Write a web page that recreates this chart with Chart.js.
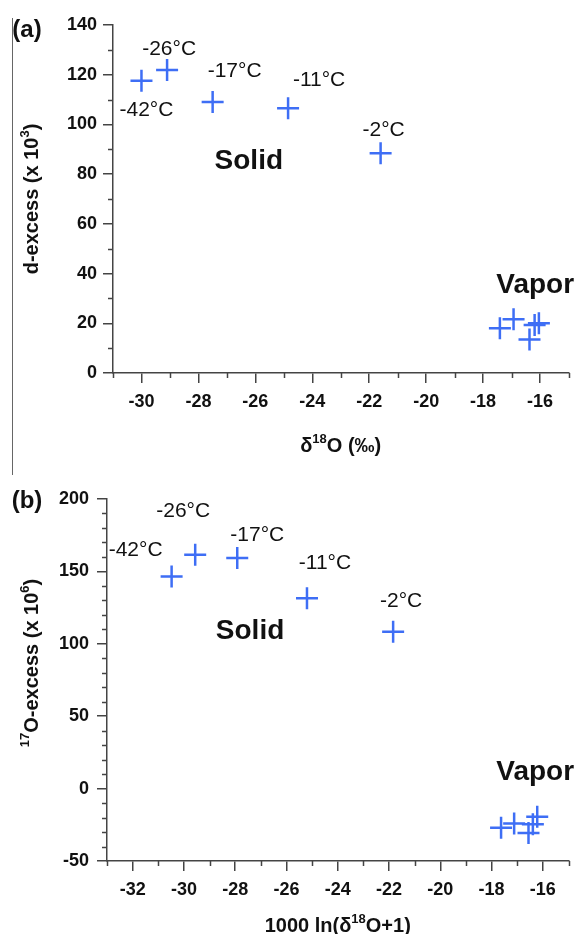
<!DOCTYPE html>
<html lang="en">
<head>
<meta charset="UTF-8">
<title>d-excess and 17O-excess</title>
<style>
  body { margin: 0; background: #fff; }
  #wrap { position: relative; width: 582px; height: 934px; }
  canvas { position: absolute; left: 0; }
  #chartA { top: 0; }
  #chartB { top: 467px; }
  .edge { position: absolute; left: 12px; top: 18px; width: 1px; height: 457px; background: #666; }
</style>
</head>
<body>
<div id="wrap">
  <div class="edge"></div>
  <canvas id="chartA" width="582" height="467"></canvas>
  <canvas id="chartB" width="582" height="467"></canvas>
</div>
<script src="https://cdn.jsdelivr.net/npm/chart.js"></script>
<script>
const tempLabels = ['-42°C', '-26°C', '-17°C', '-11°C', '-2°C'];

// (a) d-excess vs d18O
const solidD18O = [-30.0, -29.1, -27.5, -24.85, -21.6];
const solidDex = [117.6, 121.9, 109.0, 106.5, 88.4];
const vaporD18O = [-17.41, -16.93, -16.37, -16.19, -16.04];
const vaporDex = [18.0, 21.6, 13.5, 19.3, 20.0];
const xTicksA = [-30, -28, -26, -24, -22, -20, -18, -16];
const yTicksA = [0, 20, 40, 60, 80, 100, 120, 140];

// (b) 17O-excess vs 1000 ln(d18O+1)
const solidLn18O = [-30.48, -29.56, -27.92, -25.2, -21.84];
const solid17Oex = [146.5, 161.5, 159.2, 131.5, 108.4];
const vaporLn18O = [-17.63, -17.12, -16.56, -16.39, -16.22];
const vapor17Oex = [-27.1, -24.1, -30.6, -24.6, -19.5];
const xTicksB = [-32, -30, -28, -26, -24, -22, -20, -18, -16];
const yTicksB = [-50, 0, 50, 100, 150, 200];

const FONT = 'Arial, "Liberation Sans", sans-serif';
const BLUE = 'rgb(62, 110, 245)';
const AXIS = '#444';
Chart.defaults.font.family = FONT;

function toPoints(xs, ys) {
  return xs.map((x, i) => ({ x: x, y: ys[i] }));
}

// text with superscripts, centred on (cx, cy)
function drawRich(ctx, parts, cx, cy, size) {
  const big = 'bold ' + size + 'px ' + FONT;
  const small = 'bold ' + Math.round(size * 0.65) + 'px ' + FONT;
  let w = 0;
  parts.forEach(p => { ctx.font = p[1] ? small : big; w += ctx.measureText(p[0]).width; });
  let x = cx - w / 2;
  ctx.textAlign = 'left';
  ctx.textBaseline = 'alphabetic';
  parts.forEach(p => {
    ctx.font = p[1] ? small : big;
    ctx.fillText(p[0], x, cy + size * 0.36 - (p[1] ? size * 0.45 : 0));
    x += ctx.measureText(p[0]).width;
  });
}

const panelText = {
  id: 'panelText',
  afterDatasetsDraw(chart, args, opts) {
    const ctx = chart.ctx;
    const xs = chart.scales.x, ys = chart.scales.y, area = chart.chartArea;
    ctx.save();

    // minor ticks
    ctx.strokeStyle = AXIS;
    ctx.lineWidth = 1.5;
    ctx.beginPath();
    for (let v = Math.round(xs.min); v <= xs.max; v += opts.xMinor) {
      if (opts.xMajor.includes(v)) continue;
      const px = Math.round(xs.getPixelForValue(v)) + 0.5;
      ctx.moveTo(px, area.bottom);
      ctx.lineTo(px, area.bottom + 5);
    }
    for (let v = Math.round(ys.min); v <= ys.max; v += opts.yMinor) {
      if (opts.yMajor.includes(v)) continue;
      const py = Math.round(ys.getPixelForValue(v)) + 0.5;
      ctx.moveTo(area.left - 5, py);
      ctx.lineTo(area.left, py);
    }
    ctx.stroke();

    ctx.fillStyle = '#111';

    // temperature labels next to the solid points
    const solid = chart.getDatasetMeta(0).data;
    ctx.font = '21px ' + FONT;
    ctx.textAlign = 'center';
    ctx.textBaseline = 'middle';
    solid.forEach((pt, i) => {
      const off = opts.offsets[i];
      ctx.fillText(tempLabels[i], pt.x + off[0], pt.y + off[1] + 1);
    });

    // Solid / Vapor
    ctx.font = 'bold 28px ' + FONT;
    opts.groups.forEach(g => {
      ctx.fillText(g.text, xs.getPixelForValue(g.x), ys.getPixelForValue(g.y) + 1);
    });

    // panel letter
    ctx.font = 'bold 24px ' + FONT;
    ctx.fillText(opts.tag, 27, opts.tagY);

    // axis titles
    drawRich(ctx, opts.xTitle, (area.left + area.right) / 2, opts.xTitleY, 20);
    ctx.translate(31, opts.yTitleY);
    ctx.rotate(-Math.PI / 2);
    drawRich(ctx, opts.yTitle, 0, 0, 20);
    ctx.restore();
  }
};

function makeChart(id, solidX, solidY, vaporX, vaporY, cfg) {
  const tickFont = { size: 18, weight: 'bold' };
  return new Chart(document.getElementById(id), {
    type: 'scatter',
    data: {
      datasets: [
        { label: 'Solid', data: toPoints(solidX, solidY) },
        { label: 'Vapor', data: toPoints(vaporX, vaporY) }
      ]
    },
    options: {
      responsive: false,
      animation: false,
      events: [],
      layout: { padding: { top: cfg.top, right: 10, left: 0, bottom: 0 } },
      elements: {
        point: {
          pointStyle: 'cross',
          radius: 11,
          borderWidth: 2.5,
          borderColor: BLUE,
          backgroundColor: BLUE
        }
      },
      scales: {
        x: {
          type: 'linear',
          min: cfg.xMin,
          max: cfg.xMax,
          afterBuildTicks: s => { s.ticks = cfg.xTicks.map(v => ({ value: v })); },
          afterFit: s => { s.height = cfg.xHeight; },
          ticks: { font: tickFont, color: '#111', padding: 8, maxRotation: 0 },
          grid: { drawOnChartArea: false, tickLength: 10, color: AXIS, lineWidth: 1.5 },
          border: { color: AXIS, width: 1.5 }
        },
        y: {
          type: 'linear',
          min: cfg.yMin,
          max: cfg.yMax,
          afterBuildTicks: s => { s.ticks = cfg.yTicks.map(v => ({ value: v })); },
          afterFit: s => { s.width = cfg.yWidth; },
          ticks: { font: tickFont, color: '#111', padding: cfg.yPad },
          grid: { drawOnChartArea: false, tickLength: 10, color: AXIS, lineWidth: 1.5 },
          border: { color: AXIS, width: 1.5 }
        }
      },
      plugins: {
        legend: { display: false },
        tooltip: { enabled: false },
        panelText: cfg.text
      }
    },
    plugins: [panelText]
  });
}

makeChart('chartA', solidD18O, solidDex, vaporD18O, vaporDex, {
  top: 25, xHeight: 94, yWidth: 113, yPad: 6,
  xMin: -31, xMax: -15, yMin: 0, yMax: 140,
  xTicks: xTicksA, yTicks: yTicksA,
  text: {
    tag: '(a)', tagY: 30,
    xMajor: xTicksA, yMajor: yTicksA, xMinor: 1, yMinor: 10,
    offsets: [[5, 29], [2, -22], [22, -32], [31, -29], [3, -24]],
    groups: [{ text: 'Solid', x: -26.23, y: 85.7 }, { text: 'Vapor', x: -16.17, y: 35.8 }],
    xTitle: [['δ'], ['18', true], ['O (‰)']], xTitleY: 445,
    yTitle: [['d-excess (x 10'], ['3', true], [')']], yTitleY: 199
  }
});

makeChart('chartB', solidLn18O, solid17Oex, vaporLn18O, vapor17Oex, {
  top: 32, xHeight: 73, yWidth: 107, yPad: 8,
  xMin: -33, xMax: -15, yMin: -50, yMax: 200,
  xTicks: xTicksB, yTicks: yTicksB,
  text: {
    tag: '(b)', tagY: 34,
    xMajor: xTicksB, yMajor: yTicksB, xMinor: 1, yMinor: 10,
    offsets: [[-36, -27], [-12, -45], [20, -24], [18, -36], [8, -31]],
    groups: [{ text: 'Solid', x: -27.42, y: 109.6 }, { text: 'Vapor', x: -16.3, y: 12.1 }],
    xTitle: [['1000 ln(δ'], ['18', true], ['O+1)']], xTitleY: 458,
    yTitle: [['17', true], ['O-excess (x 10'], ['6', true], [')']], yTitleY: 196
  }
});
</script>
</body>
</html>
